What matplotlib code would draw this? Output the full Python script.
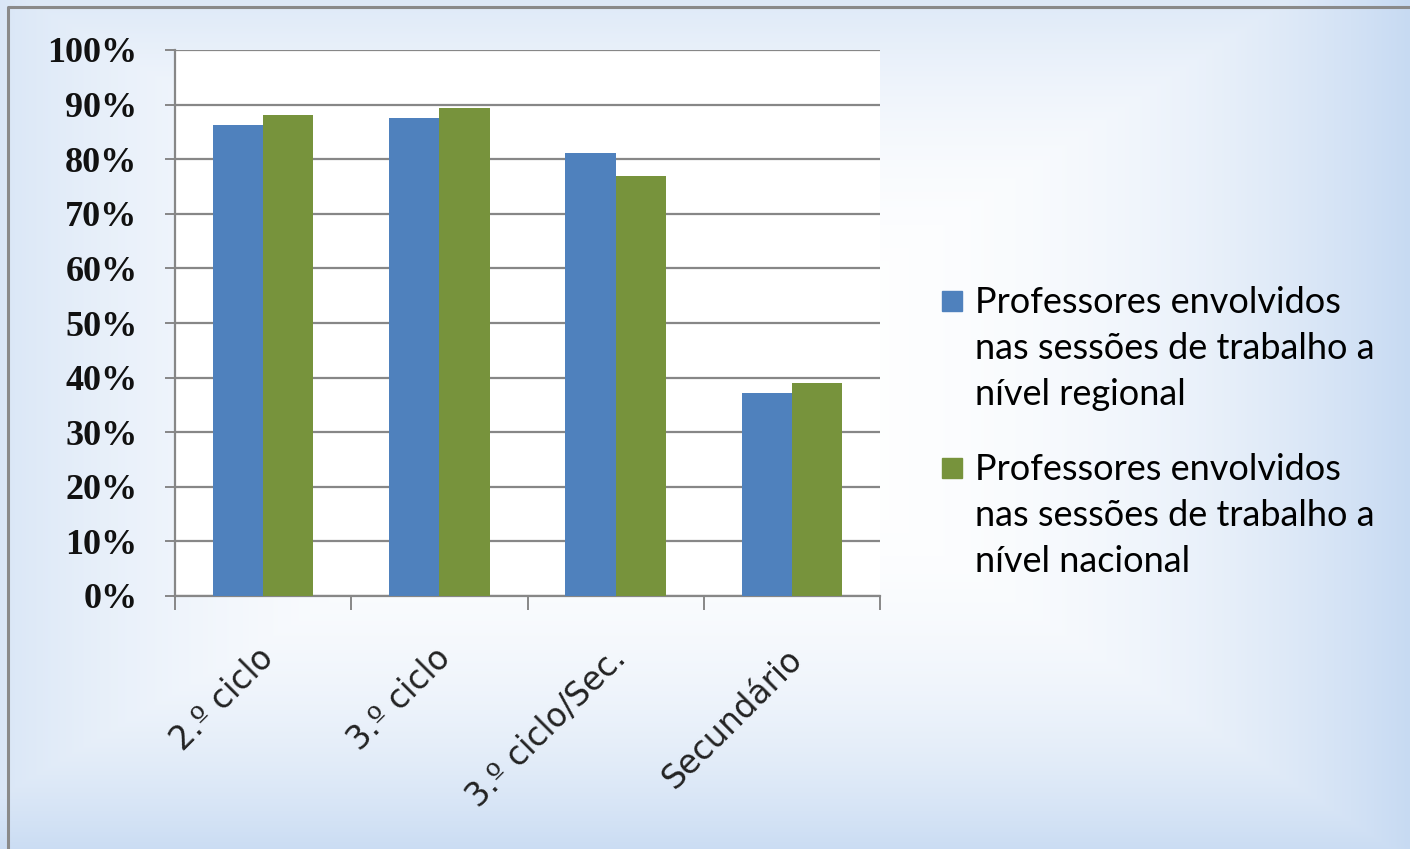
import numpy as np
import matplotlib
matplotlib.use("Agg")
import matplotlib.pyplot as plt
from matplotlib.patches import Rectangle
from matplotlib.transforms import ScaledTranslation

W, H = 1410, 849

categories = ["2.º ciclo", "3.º ciclo", "3.º ciclo/Sec.", "Secundário"]
regional = [86.3, 87.5, 81.1, 37.2]
nacional = [88.1, 89.4, 76.9, 39.0]
legend_lines = [
    ["Professores envolvidos", "nas sessões de trabalho a", "nível regional"],
    ["Professores envolvidos", "nas sessões de trabalho a", "nível nacional"],
]
yticks = list(range(0, 101, 10))

BLUE = "#4F81BD"
GREEN = "#77933C"
GRID = "#878787"

fig = plt.figure(figsize=(W / 100, H / 100), dpi=100)


def fx(px):
    return px / W


def fy(py):
    return 1 - py / H


# --- background: Excel style "from centre" gradient -------------------------
bg = fig.add_axes([0, 0, 1, 1], zorder=-10)
yy, xx = np.mgrid[0:H, 0:W]
dx = np.where(xx < 690, (690 - xx) / 800.0, (xx - 690) / 720.0)
t = np.maximum(dx, np.abs(yy - 390) / 470.0)
t = np.clip(t, 0, 1) ** 2.8
edge = np.array([0.78, 0.855, 0.95])
img = (1 - t)[..., None] * np.ones(3) + t[..., None] * edge
bg.imshow(img, extent=[0, W, H, 0], aspect="auto", interpolation="bilinear")
bg.plot([8, 8, W + 5], [H + 5, 7, 7], color="#8a8a8a", lw=2.2, clip_on=False)
bg.set_xlim(0, W)
bg.set_ylim(H, 0)
bg.axis("off")

# --- bar chart ---------------------------------------------------------------
ax = fig.add_axes([fx(175), fy(596), fx(880) - fx(175), fy(50) - fy(596)])
ax.set_facecolor("white")
x = np.arange(len(categories))
bw = 0.2857
ax.bar(x - bw / 2, regional, bw, color=BLUE, zorder=3)
ax.bar(x + bw / 2, nacional, bw, color=GREEN, zorder=3)

ax.set_xlim(-0.5, len(categories) - 0.5)
ax.set_ylim(0, 100)
ax.set_yticks(yticks)
ax.set_yticklabels([f"{v}%" for v in yticks], family="Liberation Serif",
                   fontweight="bold", fontsize=26, color="#111111")
ax.yaxis.grid(True, color=GRID, lw=1.6, zorder=0)
ax.set_axisbelow(True)
ax.tick_params(axis="y", length=7, width=1.4, color=GRID, pad=20)

ax.set_xticks(x)
ax.set_xticklabels(categories, rotation=45, ha="right",
                   rotation_mode="anchor", family="DejaVu Sans", fontsize=23.5,
                   color="#222222")
ax.tick_params(axis="x", which="major", length=0, pad=33)
shift = ScaledTranslation(-6 / 100, 0, fig.dpi_scale_trans)
for lab in ax.get_xticklabels():
    lab.set_transform(lab.get_transform() + shift)
ax.set_xticks(np.arange(len(categories) + 1) - 0.5, minor=True)
ax.tick_params(axis="x", which="minor", length=10, width=1.4, color=GRID)

for s in ("top", "right"):
    ax.spines[s].set_visible(False)
for s in ("left", "bottom"):
    ax.spines[s].set_color(GRID)
    ax.spines[s].set_linewidth(1.6)

# --- legend (marker sits on the first line, as in Excel) ---------------------
colors = [BLUE, GREEN]
first_base = [313, 480]
for lines, c, b0 in zip(legend_lines, colors, first_base):
    fig.add_artist(Rectangle((fx(942), fy(b0 - 2)), fx(20), fy(b0 - 22) - fy(b0 - 2),
                             transform=fig.transFigure, color=c))
    for i, line in enumerate(lines):
        fig.text(fx(975), fy(b0 + 46 * i), line, family="Lato", fontsize=26,
                 va="baseline", ha="left", color="#000000")

fig.savefig("out.png", dpi=100)
